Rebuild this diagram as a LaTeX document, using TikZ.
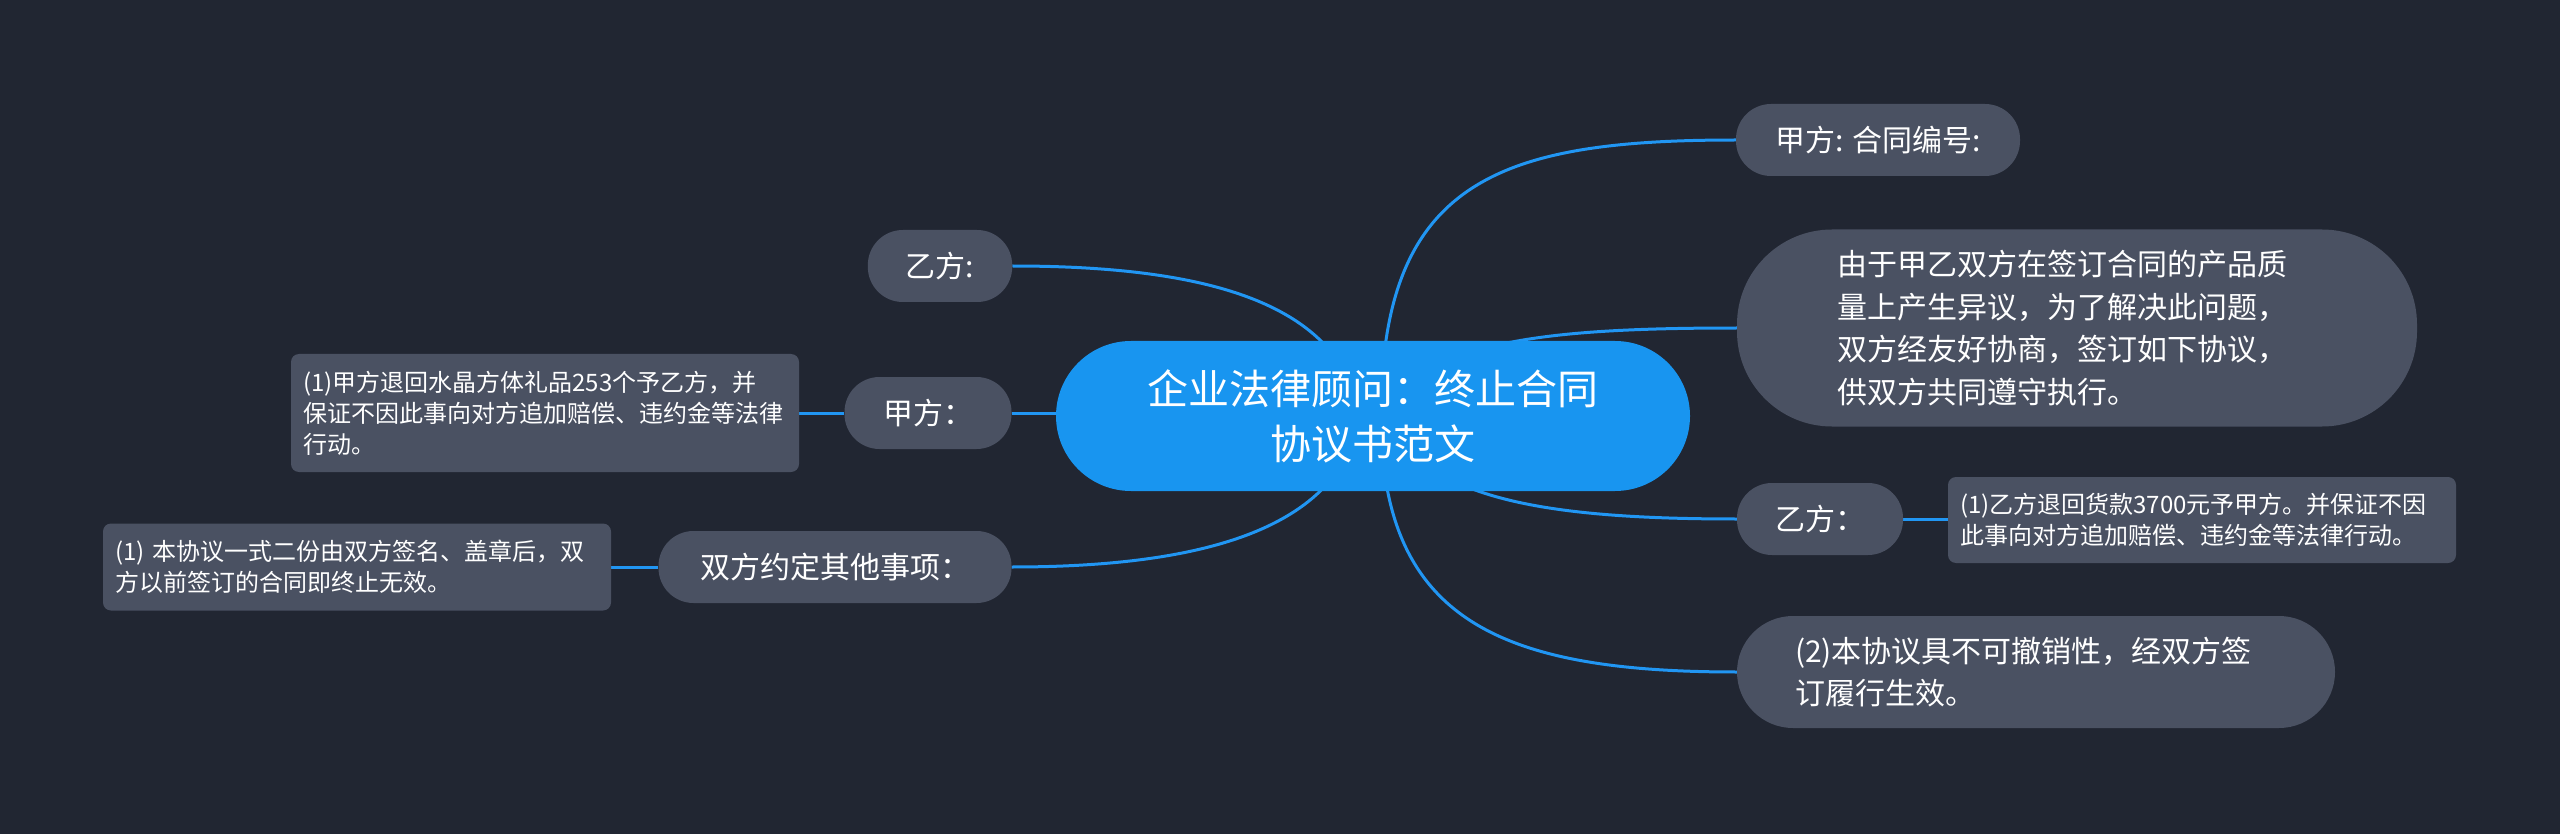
\documentclass[tikz,border=0pt]{standalone}
\usepackage{fontspec}
\setmainfont{Noto Sans CJK SC}
\definecolor{bgc}{RGB}{33,38,50}
\definecolor{nodec}{RGB}{74,81,98}
\definecolor{rootc}{RGB}{24,149,240}
\definecolor{edgec}{RGB}{33,150,243}
\pgfdeclarelayer{bglayer}
\pgfdeclarelayer{edgelayer}
\pgfsetlayers{bglayer,edgelayer,main}
\tikzset{
  rootbox/.style={fill=rootc, text=white, rounded corners=75pt, minimum width=634pt, minimum height=150pt, align=center, inner sep=0pt, font=\fontsize{41}{55}\selectfont},
  lvlbox/.style={fill=nodec, text=white, rounded corners=35pt, minimum height=72pt, inner xsep=38pt, inner ysep=0pt, font=\fontsize{30}{42.5}\selectfont},
  bigbox/.style={fill=nodec, text=white, align=left, inner ysep=0pt, font=\fontsize{30}{42.5}\selectfont},
  leafbox/.style={fill=nodec, text=white, rounded corners=8pt, align=left, text width=484pt, inner xsep=12pt, inner ysep=0pt, font=\fontsize{24}{31}\selectfont},
  link/.style={draw=edgec, line width=3pt}
}
\begin{document}
\begin{tikzpicture}[x=1pt,y=-1pt]
\begin{pgfonlayer}{bglayer}
\fill[bgc] (0,0) rectangle (2560,834);
\end{pgfonlayer}
\useasboundingbox (0,0) rectangle (2560,834);

\node[rootbox] (root) at (1373,416) {企业法律顾问：终止合同\\协议书范文};

\node[lvlbox, minimum width=284pt] (n1) at (1878,140) {甲方: 合同编号:};
\node[bigbox, rounded corners=95pt, text width=480pt, inner xsep=100pt, minimum height=197pt] (n2) at (2077,328) {由于甲乙双方在签订合同的产品质\\量上产生异议，为了解决此问题，\\双方经友好协商，签订如下协议，\\供双方共同遵守执行。};
\node[lvlbox, minimum width=142pt] (n3) at (940,266) {乙方:};
\node[lvlbox, minimum width=167pt] (n4) at (928,413) {甲方：};
\node[lvlbox, minimum width=353pt] (n5) at (835,567) {双方约定其他事项：};
\node[lvlbox, minimum width=165pt] (n6) at (1820,519) {乙方：};
\node[bigbox, rounded corners=56pt, text width=482pt, inner xsep=58pt, minimum height=112pt] (n7) at (2036,672) {(2)本协议具不可撤销性，经双方签\\订履行生效。};

\node[leafbox, minimum height=118pt] (n8) at (545,413) {(1)甲方退回水晶方体礼品253个予乙方，并\\保证不因此事向对方追加赔偿、违约金等法律\\行动。};
\node[leafbox, minimum height=87pt] (n9) at (357,567) {(1) 本协议一式二份由双方签名、盖章后，双\\方以前签订的合同即终止无效。};
\node[leafbox, minimum height=86pt] (n10) at (2202,520) {(1)乙方退回货款3700元予甲方。并保证不因\\此事向对方追加赔偿、违约金等法律行动。};

\begin{pgfonlayer}{edgelayer}
\draw[link] ([xshift=8pt]root.center) .. controls (1381,180) and (1500,140) .. (n1.west);
\draw[link] ([xshift=17pt]root.center) .. controls (1420,340) and (1550,328) .. (n2.west);
\draw[link] ([xshift=17pt]root.center) .. controls (1420,500) and (1550,519) .. (n6.west);
\draw[link] ([xshift=8pt]root.center) .. controls (1381,620) and (1500,672) .. (n7.west);
\draw[link] ([xshift=-13pt]root.center) .. controls (1340,300) and (1200,266) .. (n3.east);
\draw[link] (n4.east) -- (n4.east -| root.center);
\draw[link] ([xshift=-13pt]root.center) .. controls (1340,530) and (1200,567) .. (n5.east);
\draw[link] (n4.west) -- (n4.west -| n8.east);
\draw[link] (n5.west) -- (n5.west -| n9.east);
\draw[link] (n6.east) -- (n6.east -| n10.west);
\end{pgfonlayer}
\end{tikzpicture}
\end{document}
